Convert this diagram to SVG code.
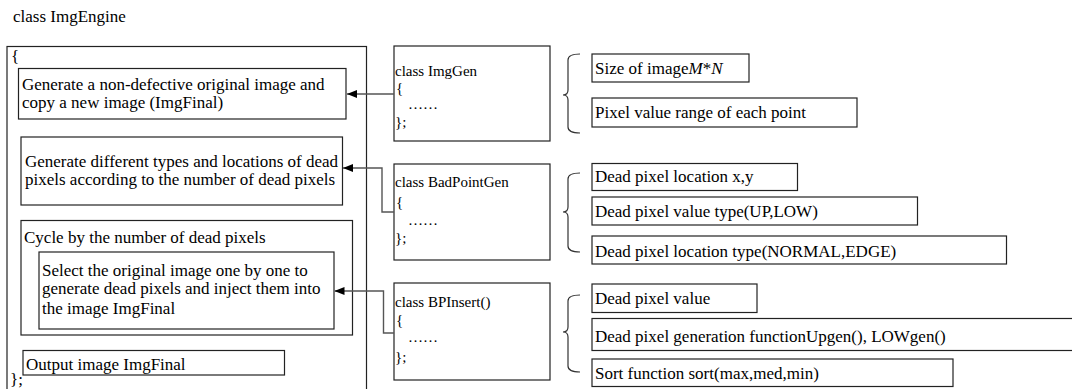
<svg xmlns="http://www.w3.org/2000/svg" width="1072" height="389" viewBox="0 0 1072 389">
<defs>
<style>
.t{font-size:17px}
.c{font-size:15px}
.b{fill:#fff;stroke:#222;stroke-width:1.2}
.con{fill:none;stroke:#555;stroke-width:1.4}
.br{fill:none;stroke:#333;stroke-width:1.2}
</style>
<marker id="ah" viewBox="0 0 10 8" refX="10" refY="4" markerWidth="10" markerHeight="8" markerUnits="userSpaceOnUse" orient="auto">
<path d="M0,0 L10,4 L0,8 Z" fill="#000"/>
</marker>
</defs>
<rect width="1072" height="389" fill="#fff"/>
<g font-family="Liberation Serif, Tinos, DejaVu Serif, serif" fill="#000">
<text class="t" x="13" y="22">class ImgEngine</text>
<g id="ImgEngine">
<rect class="b" x="7" y="46.5" width="359.5" height="350"/>
<text class="t" x="11" y="62">{</text>
<text class="t" x="10" y="385">};</text>
</g>
<g id="genOriginal">
<rect class="b" x="18.5" y="68.5" width="327.5" height="50.5"/>
<text class="t" x="22" y="90">Generate a non-defective original image and</text>
<text class="t" x="22" y="108">copy a new image (ImgFinal)</text>
</g>
<g id="genDead">
<rect class="b" x="21" y="137" width="321.5" height="68"/>
<text class="t" x="25" y="167">Generate different types and locations of dead</text>
<text class="t" x="25" y="185">pixels according to the number of dead pixels</text>
</g>
<g id="cycle">
<rect class="b" x="21" y="220.5" width="331.5" height="114.5"/>
<text class="t" x="24" y="242.5">Cycle by the number of dead pixels</text>
</g>
<g id="inject">
<rect class="b" x="39" y="252" width="295" height="77"/>
<text class="t" x="42" y="275.5">Select the original image one by one to</text>
<text class="t" x="42" y="294">generate dead pixels and inject them into</text>
<text class="t" x="42" y="313.5">the image ImgFinal</text>
</g>
<g id="output">
<rect class="b" x="23" y="350.5" width="261.5" height="24.5"/>
<text class="t" x="26" y="370">Output image ImgFinal</text>
</g>
<g id="ImgGen">
<rect class="b" x="394" y="46" width="156" height="95"/>
<text class="c" x="395" y="76">class ImgGen</text>
<text class="c" x="396" y="93">{</text>
<text class="c" x="408" y="109">……</text>
<text class="c" x="395" y="127">};</text>
</g>
<g id="BadPointGen">
<rect class="b" x="394" y="164" width="156" height="96"/>
<text class="c" x="395" y="187">class BadPointGen</text>
<text class="c" x="396" y="207">{</text>
<text class="c" x="408" y="225">……</text>
<text class="c" x="395" y="243">};</text>
</g>
<g id="BPInsert">
<rect class="b" x="394" y="283" width="156" height="97"/>
<text class="c" x="395" y="306.5">class BPInsert()</text>
<text class="c" x="396" y="325">{</text>
<text class="c" x="408" y="342">……</text>
<text class="c" x="395" y="361.5">};</text>
</g>
<g id="connectors">
<path class="con" d="M394,94 H347" marker-end="url(#ah)"/>
<path class="con" d="M394,212 H382 V168 H343" marker-end="url(#ah)"/>
<path class="con" d="M394,333 H383.5 V291 H334.5" marker-end="url(#ah)"/>
<path class="br" d="M580,54 Q568,54 568,60 V90 Q568,95 563,95 Q568,95 568,100 V127 Q568,133 580,133"/>
<path class="br" d="M580,173 Q568,173 568,179 V207 Q568,212 563,212 Q568,212 568,217 V246 Q568,252 580,252"/>
<path class="br" d="M580,295 Q568,295 568,301 V327 Q568,332 563,332 Q568,332 568,337 V366 Q568,372 580,372"/>
</g>
<g id="imgSize">
<rect class="b" x="592" y="54" width="157" height="28"/>
<text class="t" x="595" y="73.5">Size of image<tspan font-style="italic">M</tspan>*<tspan font-style="italic">N</tspan></text>
</g>
<g id="pixelRange">
<rect class="b" x="592" y="98" width="265" height="29"/>
<text class="t" x="595" y="117.5">Pixel value range of each point</text>
</g>
<g id="deadLoc">
<rect class="b" x="592" y="163.5" width="205.5" height="27"/>
<text class="t" x="595" y="182">Dead pixel location x,y</text>
</g>
<g id="deadValType">
<rect class="b" x="592" y="197" width="325.5" height="28"/>
<text class="t" x="595" y="217">Dead pixel value type(UP,LOW)</text>
</g>
<g id="deadLocType">
<rect class="b" x="592" y="236" width="414.5" height="28"/>
<text class="t" x="595" y="256.5">Dead pixel location type(NORMAL,EDGE)</text>
</g>
<g id="deadVal">
<rect class="b" x="592" y="284" width="165" height="28.5"/>
<text class="t" x="595" y="303.5">Dead pixel value</text>
</g>
<g id="deadGenFunc">
<rect class="b" x="592" y="318.5" width="490" height="32"/>
<text class="t" x="595" y="341.5">Dead pixel generation functionUpgen(), LOWgen()</text>
</g>
<g id="sortFunc">
<rect class="b" x="592" y="359" width="361" height="27.5"/>
<text class="t" x="595" y="378.5">Sort function sort(max,med,min)</text>
</g>
</g>
</svg>
